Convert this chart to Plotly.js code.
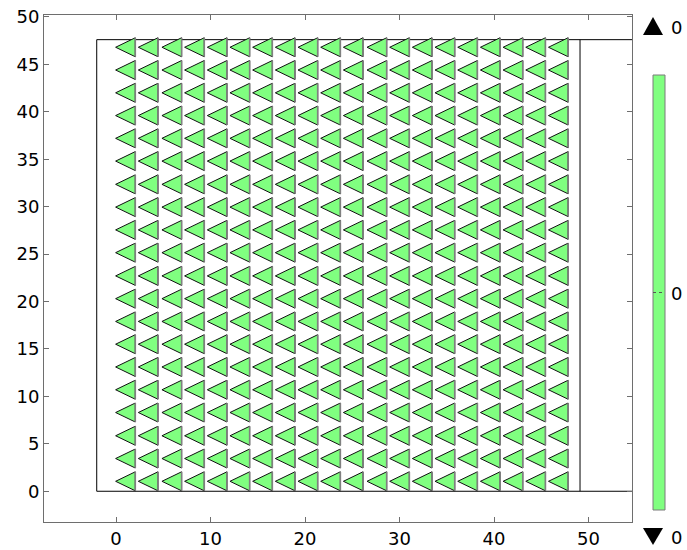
<!DOCTYPE html>
<html>
<head>
<meta charset="utf-8">
<script src="https://cdn.plot.ly/plotly-3.0.1.min.js"></script>
<style>html,body{margin:0;padding:0;background:#fff;}#chart{width:687px;height:550px;}</style>
</head>
<body>
<div id="chart"></div>
<script>
// Arrow grid (arrow centres)
const xGrid = [1.0, 3.4, 5.9, 8.3, 10.7, 13.1, 15.5, 17.9, 20.3, 22.7, 25.1, 27.6, 30.0, 32.4, 34.8, 37.2, 39.6, 42.0, 44.4, 46.8];
const yGrid = [1.05, 3.45, 5.85, 8.3, 10.7, 13.1, 15.5, 17.9, 20.3, 22.7, 25.15, 27.55, 29.95, 32.35, 34.8, 37.2, 39.6, 42.0, 44.4, 46.8];
// Arrow direction (unit vector) and colour value
const arrowU = -1;
const arrowV = 0;
const colorValue = 0;
// Geometry outline
const domainX = [-2.04, 49.1];
const domainY = [0, 47.6];
const xTicks = [0, 10, 20, 30, 40, 50];
const yTicks = [0, 5, 10, 15, 20, 25, 30, 35, 40, 45, 50];

const XR = [-7.62, 54.6];
const YR = [-3.24, 50.2];

// styling constants for arrow glyphs
const ARROW_LEN = 2.08;
const ARROW_HALF_W = 1.0;

const fx = [], fy = [], ex = [], ey = [];
for (const yc of yGrid) {
  for (const xc of xGrid) {
    const tipX = xc + arrowU * ARROW_LEN / 2;
    const baseX = xc - arrowU * ARROW_LEN / 2;
    const tipY = yc + arrowV * ARROW_LEN / 2;
    fx.push(tipX, baseX, baseX, tipX, null);
    fy.push(tipY, yc + ARROW_HALF_W, yc - ARROW_HALF_W, tipY, null);
    ex.push(baseX, baseX, null);
    ey.push(yc + ARROW_HALF_W, yc - ARROW_HALF_W, null);
  }
}

const traces = [
  {
    x: fx, y: fy, type: 'scatter', mode: 'lines', fill: 'toself',
    fillcolor: '#80ff80', line: {color: '#111111', width: 1},
    hoverinfo: 'skip', showlegend: false
  },
  {
    x: ex, y: ey, type: 'scatter', mode: 'lines',
    line: {color: '#808080', width: 1.6},
    hoverinfo: 'skip', showlegend: false
  }
];

const T = 15, B = 28, L = 44, R = 55, W = 687, H = 550;
const pw = W - L - R, ph = H - T - B;
const px = p => (p - L) / pw;
const py = p => (H - B - p) / ph;

const font = {family: 'DejaVu Sans, sans-serif', size: 18, color: '#000'};

const axisCommon = {
  showgrid: false, zeroline: false, showline: true, mirror: 'ticks',
  linecolor: '#6e6e6e', linewidth: 1, ticks: 'inside', ticklen: 5,
  tickcolor: '#6e6e6e', tickfont: font, fixedrange: true
};

function triPath(x0, x1, yTop, yBot, up) {
  const xm = (x0 + x1) / 2;
  if (up) return `M ${px(x0)} ${py(yBot)} L ${px(x1)} ${py(yBot)} L ${px(xm)} ${py(yTop)} Z`;
  return `M ${px(x0)} ${py(yTop)} L ${px(x1)} ${py(yTop)} L ${px(xm)} ${py(yBot)} Z`;
}

const layout = {
  width: W, height: H, autosize: false,
  margin: {l: L, r: R, t: T, b: B, pad: 0},
  paper_bgcolor: '#ffffff', plot_bgcolor: '#ffffff',
  font: font,
  showlegend: false,
  xaxis: Object.assign({}, axisCommon, {range: XR, tickvals: xTicks, ticktext: xTicks.map(String)}),
  yaxis: Object.assign({}, axisCommon, {range: YR, tickvals: yTicks, ticktext: yTicks.map(String)}),
  shapes: [
    {type: 'rect', xref: 'x', yref: 'y', x0: domainX[0], x1: domainX[1], y0: domainY[0], y1: domainY[1],
     line: {color: '#000', width: 1}, layer: 'below'},
    {type: 'line', xref: 'x', yref: 'y', x0: domainX[1], x1: XR[1], y0: domainY[0], y1: domainY[0],
     line: {color: '#000', width: 1}, layer: 'below'},
    {type: 'line', xref: 'x', yref: 'y', x0: domainX[1], x1: XR[1], y0: domainY[1], y1: domainY[1],
     line: {color: '#000', width: 1}, layer: 'below'},
    // colour legend bar
    {type: 'rect', xref: 'paper', yref: 'paper', x0: px(653), x1: px(665), y0: py(510), y1: py(75),
     fillcolor: '#80ff80', line: {color: '#7a7a7a', width: 1}},
    {type: 'line', xref: 'paper', yref: 'paper', x0: px(653), x1: px(665), y0: py(292.5), y1: py(292.5),
     line: {color: '#555', width: 1, dash: 'dot'}},
    // max / min markers
    {type: 'path', xref: 'paper', yref: 'paper', path: triPath(643, 663, 17, 35, true),
     fillcolor: '#000', line: {color: '#000', width: 0}},
    {type: 'path', xref: 'paper', yref: 'paper', path: triPath(643, 663, 528, 545, false),
     fillcolor: '#000', line: {color: '#000', width: 0}}
  ],
  annotations: [
    {xref: 'paper', yref: 'paper', x: px(669), y: py(27), xanchor: 'left', yanchor: 'middle',
     text: String(colorValue), showarrow: false, font: font},
    {xref: 'paper', yref: 'paper', x: px(669), y: py(537), xanchor: 'left', yanchor: 'middle',
     text: String(colorValue), showarrow: false, font: font},
    {xref: 'paper', yref: 'paper', x: px(669), y: py(294), xanchor: 'left', yanchor: 'middle',
     text: String(colorValue), showarrow: false, font: font}
  ]
};

Plotly.newPlot('chart', traces, layout, {displayModeBar: false, staticPlot: true});
</script>
</body>
</html>
